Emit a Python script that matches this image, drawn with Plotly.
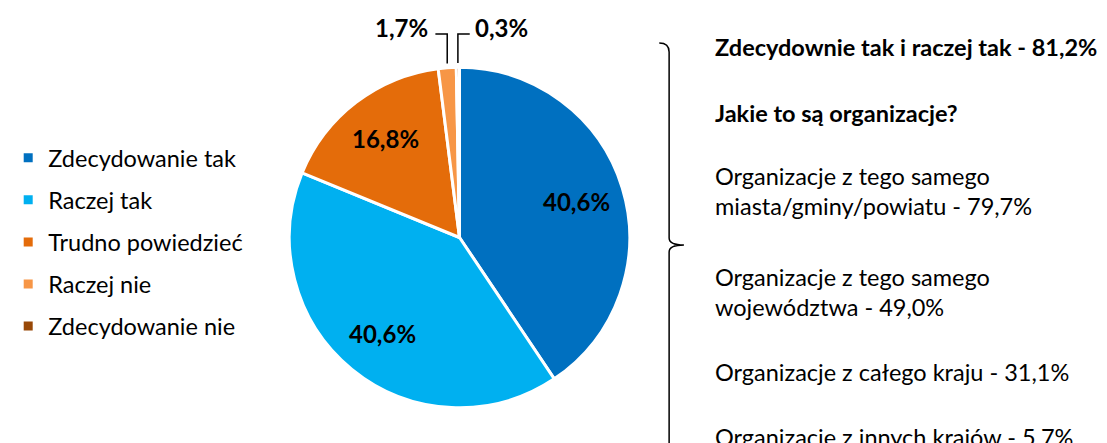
import math
import plotly.graph_objects as go

# ---- data ----
categories = ["Zdecydowanie tak", "Raczej tak", "Trudno powiedzieć", "Raczej nie", "Zdecydowanie nie"]
values = [40.6, 40.6, 16.8, 1.7, 0.3]
colors = ["#0070C0", "#00B0F0", "#E46C0A", "#F79646", "#984807"]
inside_labels = [True, True, True, False, False]

right_title = "Zdecydownie tak i raczej tak - 81,2%"
right_subtitle = "Jakie to są organizacje?"
right_items = [
    ["Organizacje z tego samego", "miasta/gminy/powiatu - 79,7%"],
    ["Organizacje z tego samego", "województwa - 49,0%"],
    ["Organizacje z całego kraju - 31,1%"],
    ["Organizacje z innych krajów - 5,7%"],
]

W, H = 1107, 443
OFF = 8  # page body margin
FONT = "Lato, Carlito, Calibri, sans-serif"

# pie geometry (page pixels)
cx, cy, R = 450.5, 237.5, 172.5

def px(x):
    return (x - OFF) / W

def py(y):
    return 1 - (y - OFF) / H

def fmt(v):
    return ("%.1f" % v).replace(".", ",") + "%"

fig = go.Figure()
fig.add_trace(go.Pie(
    labels=categories, values=values, sort=False, direction="clockwise", rotation=0,
    marker=dict(colors=colors, line=dict(color="white", width=3)),
    textinfo="none", hoverinfo="label+percent", showlegend=False,
    domain=dict(x=[px(cx - R), px(cx + R)], y=[py(cy + R), py(cy - R)]),
))

# legend via marker-only entries
for i, (c, col) in enumerate(zip(categories, colors)):
    fig.add_trace(go.Scatter(
        x=[None], y=[None], mode="markers", name=c, legendgroup=c,
        marker=dict(symbol="square", size=9, color=col),
    ))

annotations = []
shapes = []
total = sum(values)
cum = 0.0
outside_idx = []
for i, v in enumerate(values):
    mid = (cum + v / 2) / total * 2 * math.pi
    cum += v
    if inside_labels[i]:
        r = 0.72 * R
        x = cx + r * math.sin(mid)
        y = cy - r * math.cos(mid)
        annotations.append(dict(x=px(x), y=py(y), xref="paper", yref="paper", text="<b>%s</b>" % fmt(v),
                                xanchor="center", yanchor="middle",
                                showarrow=False, font=dict(family=FONT, size=24, color="black")))
    else:
        outside_idx.append((i, mid))

# outside labels with elbow leader lines
label_y = 34
for k, (i, mid) in enumerate(outside_idx):
    ex = cx + R * math.sin(mid)
    ey = cy - R * math.cos(mid) - 2
    side = -1 if k == 0 else 1
    hx = ex + side * 12
    gap = 5 if side < 0 else 3
    shapes.append(dict(type="path", xref="paper", yref="paper",
                       path="M %f %f L %f %f L %f %f" % (px(ex), py(ey), px(ex), py(label_y), px(hx), py(label_y)),
                       line=dict(color="black", width=1.5)))
    annotations.append(dict(x=px(hx + side * gap), y=py(label_y - 6), xref="paper", yref="paper",
                            xanchor="right" if side < 0 else "left", yanchor="middle",
                            text="<b>%s</b>" % fmt(values[i]), showarrow=False,
                            font=dict(family=FONT, size=24, color="black")))

# right-side text block
tx = 707
lines = [(right_title, True, 47), (right_subtitle, True, 113)]
ys = [[176, 206], [277, 307], [372], [437]]
for item, yy in zip(right_items, ys):
    for t, y in zip(item, yy):
        lines.append((t, False, y))
for t, bold, y in lines:
    annotations.append(dict(x=px(tx), y=py(y), xref="paper", yref="paper", xanchor="left", yanchor="middle",
                            text="<b>%s</b>" % t if bold else t, showarrow=False,
                            font=dict(family=FONT, size=23.5, color="black")))

# right brace
bx = 663
shapes.append(dict(type="path", xref="paper", yref="paper",
                   path=("M %f %f Q %f %f %f %f L %f %f Q %f %f %f %f Q %f %f %f %f L %f %f" % (
                       px(653), py(43), px(bx), py(43), px(bx), py(52),
                       px(bx), py(238),
                       px(bx), py(245), px(678), py(245),
                       px(bx), py(245), px(bx), py(252),
                       px(bx), py(470))),
                   line=dict(color="black", width=1.5)))

fig.update_layout(
    width=W, height=H, margin=dict(l=0, r=0, t=0, b=0),
    paper_bgcolor="white", plot_bgcolor="white",
    xaxis=dict(visible=False), yaxis=dict(visible=False),
    legend=dict(x=px(-7), y=py(136), xanchor="left", yanchor="top", tracegroupgap=8.5,
                font=dict(family=FONT, size=23.5, color="black"), itemwidth=30, bgcolor="rgba(0,0,0,0)"),
    annotations=annotations, shapes=shapes,
)
fig.write_html("out.html")
